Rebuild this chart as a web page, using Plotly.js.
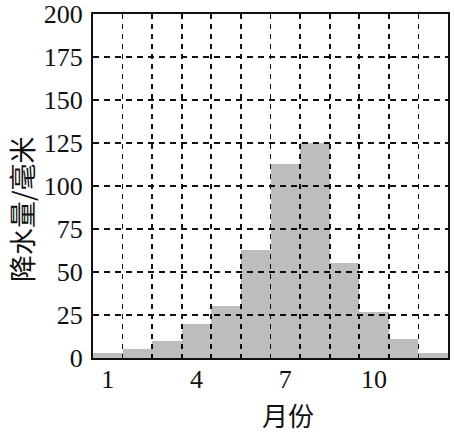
<!DOCTYPE html>
<html>
<head>
<meta charset="utf-8">
<script src="https://cdn.plot.ly/plotly-3.0.1.min.js"></script>
<style>html,body{margin:0;padding:0;background:#fff;}#chart{width:454px;height:432px;}</style>
</head>
<body>
<div id="chart"></div>
<script>
const months = [1, 2, 3, 4, 5, 6, 7, 8, 9, 10, 11, 12];
const precipitation = [3, 5, 10, 20, 30, 63, 113, 125, 55, 27, 11, 3];
const xTickVals = [1, 4, 7, 10];
const xTickText = ['1', '4', '7', '10'];
const yTickVals = [0, 25, 50, 75, 100, 125, 150, 175, 200];
const xTitle = '月份';
const yTitle = '降水量/毫米';

const numFont = {family: '"Liberation Serif", "DejaVu Serif", serif', size: 26, color: '#111'};
const xNumFont = {family: '"Liberation Serif", "DejaVu Serif", serif', size: 26, color: '#111'};
const cjkFont = {family: '"Noto Sans CJK SC", sans-serif', size: 27, color: '#111'};
const xTitleFont = {family: '"Noto Sans CJK SC", sans-serif', size: 26, color: '#111'};

const trace = {
  type: 'bar',
  x: months,
  y: precipitation,
  width: 1,
  marker: {color: 'rgba(0,0,0,0.26)', line: {width: 0}},
  hoverinfo: 'x+y'
};

const layout = {
  width: 454,
  height: 432,
  margin: {l: 93, r: 6, t: 14, b: 74},
  paper_bgcolor: '#fff',
  plot_bgcolor: '#fff',
  showlegend: false,
  bargap: 0,
  xaxis: {
    range: [0.5, 12.5],
    tickmode: 'array',
    tickvals: xTickVals,
    ticktext: xTickText,
    ticks: '',
    tickfont: xNumFont,
    ticklabelstandoff: -3,
    ticklabeloverflow: 'allow',
    showgrid: false,
    zeroline: false,
    showline: true,
    mirror: true,
    linecolor: '#111',
    linewidth: 2,
    minor: {
      tickmode: 'linear',
      tick0: 0.5,
      dtick: 1,
      ticks: '',
      showgrid: true,
      gridcolor: '#111',
      gridwidth: 1.8,
      griddash: '5px,5px'
    },
    fixedrange: true
  },
  yaxis: {
    range: [0, 200],
    tickmode: 'array',
    tickvals: yTickVals,
    ticks: '',
    tickfont: numFont,
    ticklabelstandoff: 3,
    ticklabeloverflow: 'allow',
    showgrid: true,
    gridcolor: '#111',
    gridwidth: 1.8,
    griddash: '6px,5px',
    zeroline: false,
    showline: true,
    mirror: true,
    linecolor: '#111',
    linewidth: 2,
    fixedrange: true
  },
  annotations: [
    {
      text: xTitle, xref: 'paper', yref: 'paper',
      x: 0.549, y: -0.164, xanchor: 'center', yanchor: 'middle',
      showarrow: false, font: xTitleFont
    },
    {
      text: yTitle, xref: 'paper', yref: 'paper',
      x: -0.203, y: 0.433, xanchor: 'center', yanchor: 'middle',
      textangle: -90, showarrow: false, font: cjkFont
    }
  ]
};

Plotly.newPlot('chart', [trace], layout, {displayModeBar: false, staticPlot: true});
</script>
</body>
</html>
